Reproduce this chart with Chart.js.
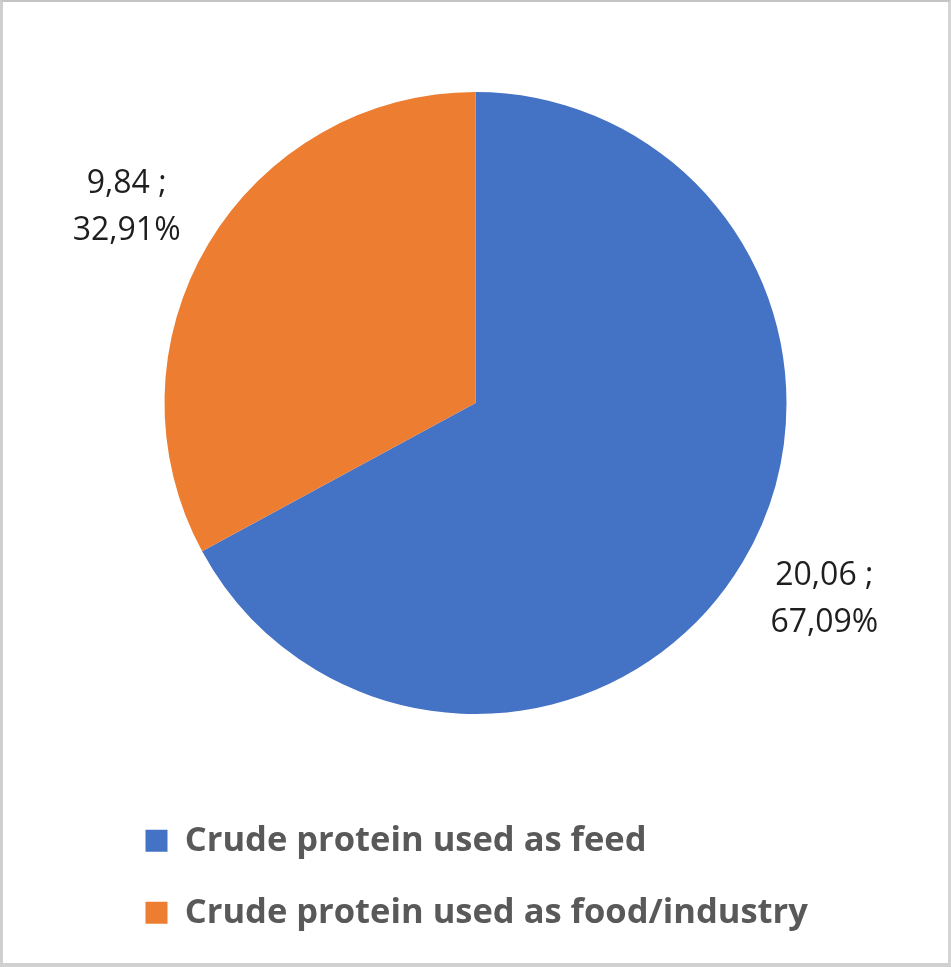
<!DOCTYPE html>
<html lang="en">
<head>
<meta charset="utf-8">
<title>Crude protein use</title>
<script src="https://cdn.jsdelivr.net/npm/chart.js"></script>
<style>
  html, body { margin: 0; padding: 0; background: #fff; }
  #wrap { position: relative; width: 951px; height: 967px; }
  #frame {
    position: absolute; left: 0; top: 0; width: 951px; height: 967px;
    box-sizing: border-box; pointer-events: none;
    border-top: 2px solid #c4c4c4; border-left: 3px solid #cfcfcf;
    border-right: 3px solid #d4d4d4; border-bottom: 4px solid #d0d0d0;
  }
</style>
</head>
<body>
<div id="wrap">
  <canvas id="pie"></canvas>
  <div id="frame"></div>
</div>
<script>
// data
const categories = ['Crude protein used as feed', 'Crude protein used as food/industry'];
const values = [20.06, 9.84];
const colors = ['#4472C4', '#ED7D31'];

function fmt(n) {
  return n.toFixed(2).replace('.', ',');
}

// value ; percent labels outside the slices
const outsideLabels = {
  id: 'outsideLabels',
  afterDatasetsDraw(chart) {
    const ctx = chart.ctx;
    const meta = chart.getDatasetMeta(0);
    const total = values.reduce((a, b) => a + b, 0);
    ctx.save();
    ctx.font = '32px "Open Sans"';
    ctx.fillStyle = '#1e1e1e';
    ctx.textAlign = 'center';
    ctx.textBaseline = 'middle';
    meta.data.forEach((arc, i) => {
      const p = arc.getProps(['x', 'y', 'startAngle', 'endAngle', 'outerRadius'], true);
      const mid = (p.startAngle + p.endAngle) / 2;
      const dx = Math.cos(mid), dy = Math.sin(mid);
      const line1 = fmt(values[i]) + ' ;';
      const line2 = fmt(values[i] / total * 100) + '%';
      const w = Math.max(ctx.measureText(line1).width, ctx.measureText(line2).width);
      const h = 62;
      const r = p.outerRadius + 41;
      const cx = p.x + dx * r + dx * w / 2;
      const cy = p.y + dy * r + dy * h / 2;
      ctx.fillText(line1, cx, cy - 23.5);
      ctx.fillText(line2, cx, cy + 23.5);
    });
    ctx.restore();
  }
};

const ctx = document.getElementById('pie').getContext('2d');
const pieChart = new Chart(ctx, {
  type: 'pie',
  data: {
    labels: categories,
    datasets: [{
      data: values,
      backgroundColor: colors,
      borderWidth: 0,
      radius: 311
    }]
  },
  options: {
    responsive: true,
    maintainAspectRatio: false,
    animation: false,
    layout: {
      padding: { left: 108, right: 108, top: 20, bottom: 27 }
    },
    plugins: {
      tooltip: { enabled: false },
      legend: {
        position: 'bottom',
        align: 'start',
        labels: {
          boxWidth: 22,
          boxHeight: 22,
          padding: 37.5,
          color: '#595959',
          font: { family: '"Open Sans"', size: 34.5, weight: 'bold' }
        }
      }
    }
  },
  plugins: [outsideLabels]
});
</script>
</body>
</html>
